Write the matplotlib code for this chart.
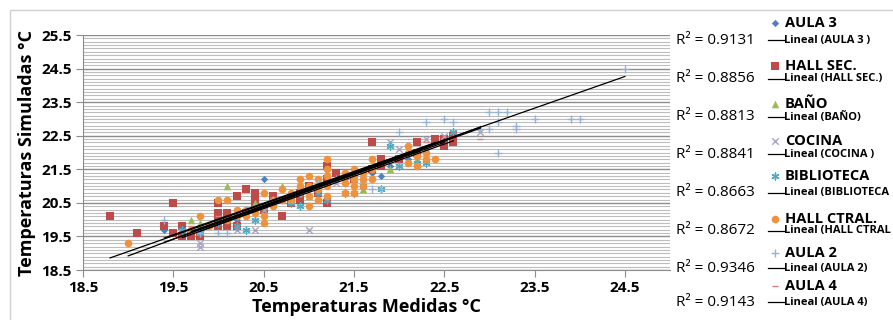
import numpy as np
import matplotlib.pyplot as plt
from matplotlib.patches import Rectangle

plt.rcParams['font.family'] = ['Open Sans', 'DejaVu Sans']

names = ['AULA 3', 'HALL SEC.', 'BAÑO', 'COCINA', 'BIBLIOTECA', 'HALL CTRAL.', 'AULA 2', 'AULA 4']
lineal_labels = ['Lineal (AULA 3 )', 'Lineal (HALL SEC.)', 'Lineal (BAÑO)', 'Lineal (COCINA )',
                 'Lineal (BIBLIOTECA', 'Lineal (HALL CTRAL', 'Lineal (AULA 2)', 'Lineal (AULA 4)']
r2_values = ['0.9131', '0.8856', '0.8813', '0.8841', '0.8663', '0.8672', '0.9346', '0.9143']

# linear trend lines (slope, intercept)
trend_slope = [0.96, 0.945, 0.95, 1.0, 0.96, 0.994, 0.943, 0.96]
trend_intercept = [0.70, 1.094, 0.925, -0.14, 0.65, 0.034, 1.16, 0.74]

aula3_x = [19.4, 19.7, 19.8, 20.0, 20.2, 20.3, 20.4, 20.5, 20.5, 20.7, 20.8, 20.9, 21.0, 21.1, 21.2,
           21.4, 21.5, 21.6, 21.7, 21.8, 21.9, 22.1, 22.2, 22.3, 22.5]
aula3_y = [19.7, 19.7, 19.8, 19.9, 20.0, 20.1, 20.2, 21.2, 20.4, 20.6, 20.8, 20.9, 20.9, 21.0, 21.1,
           21.2, 21.3, 21.4, 21.4, 21.3, 21.6, 21.8, 21.9, 22.1, 22.3]

hallsec_x = [18.8, 19.1, 19.4, 19.5, 19.5, 19.6, 19.6, 19.7, 19.8, 20.0, 20.0, 20.0, 20.1, 20.1, 20.2,
             20.2, 20.3, 20.3, 20.4, 20.4, 20.5, 20.6, 20.7, 20.8, 20.9, 21.0, 21.1, 21.2, 21.2, 21.3,
             21.5, 21.7, 21.7, 21.8, 22.0, 22.2, 22.4, 22.5, 22.6, 20.0, 20.1, 20.4, 20.9, 21.2, 21.8,
             22.2, 22.5, 22.6]
hallsec_y = [20.1, 19.6, 19.8, 20.5, 19.6, 19.8, 19.5, 19.5, 19.5, 20.5, 20.2, 19.8, 20.2, 19.8, 20.7,
             19.8, 20.9, 20.2, 20.8, 20.4, 20.3, 20.7, 20.1, 20.5, 20.8, 21.0, 20.8, 21.6, 20.5, 21.4,
             21.2, 22.3, 21.5, 21.6, 21.8, 22.3, 22.4, 22.2, 22.5, 20.0, 20.0, 20.6, 20.6, 21.2, 21.8,
             22.0, 22.4, 22.3]

bano_x = [19.7, 19.8, 20.1, 20.3, 20.4, 20.5, 20.7, 20.8, 21.0, 21.2, 21.4, 21.6, 21.9, 22.2]
bano_y = [20.0, 19.9, 21.0, 20.3, 20.5, 20.4, 21.0, 20.8, 20.7, 21.1, 21.2, 20.9, 21.5, 21.8]

cocina_x = [19.8, 19.8, 20.2, 20.3, 20.4, 20.5, 20.6, 20.8, 21.0, 21.1, 21.3, 21.5, 21.6, 21.9, 22.0,
            22.3, 22.5, 22.9]
cocina_y = [19.3, 19.2, 19.7, 20.2, 19.7, 20.3, 20.5, 20.6, 19.7, 21.0, 21.1, 21.2, 21.2, 22.3, 22.1,
            22.4, 22.5, 22.6]

biblio_x = [19.6, 19.8, 20.0, 20.2, 20.3, 20.4, 20.6, 20.8, 20.9, 21.1, 21.2, 21.4, 21.5, 21.6, 21.8,
            21.9, 22.0, 22.2, 22.3, 22.6]
biblio_y = [19.7, 19.6, 19.9, 19.8, 19.7, 20.0, 20.5, 20.5, 20.4, 20.8, 20.6, 20.8, 20.8, 21.0, 20.9,
            22.2, 21.6, 21.7, 21.7, 22.6]

hallctral_x = [19.0, 19.7, 19.8, 20.0, 20.1, 20.1, 20.2, 20.3, 20.4, 20.5, 20.5, 20.5, 20.7, 20.7, 20.8,
               20.9, 20.9, 21.0, 21.0, 21.1, 21.2, 21.2, 21.2, 21.4, 21.4, 21.5, 21.5, 21.6, 21.6, 21.7,
               21.7, 22.1, 22.1, 22.2, 22.3, 22.4, 20.9, 21.0, 21.0, 21.1, 21.1, 21.2, 21.2, 21.4, 21.4,
               21.5, 21.5, 21.6, 21.7, 20.8, 20.6, 20.6, 20.3, 20.2, 19.9, 22.2, 22.3, 22.1]
hallctral_y = [19.3, 19.7, 20.1, 20.6, 20.6, 20.0, 20.3, 20.1, 20.2, 20.8, 20.1, 19.9, 20.9, 20.6, 20.8,
               21.2, 20.8, 21.3, 20.4, 21.2, 21.8, 21.0, 20.7, 21.4, 20.8, 21.5, 20.8, 21.4, 21.0, 21.8,
               21.2, 22.2, 21.7, 21.6, 21.8, 21.8, 21.0, 21.0, 20.7, 20.9, 20.6, 21.3, 21.5, 21.1, 21.3,
               21.0, 21.2, 21.2, 21.5, 20.6, 20.4, 20.6, 20.3, 20.1, 19.8, 21.9, 22.0, 22.0]

aula2_x = [19.4, 19.8, 20.0, 20.1, 20.3, 20.6, 20.9, 21.1, 21.3, 21.7, 21.8, 22.0, 22.3, 22.5, 22.6,
           22.9, 23.0, 23.0, 23.1, 23.1, 23.1, 23.2, 23.3, 23.3, 23.5, 23.9, 24.0, 24.5]
aula2_y = [20.0, 19.6, 19.6, 19.6, 20.3, 20.6, 20.8, 21.1, 21.2, 20.9, 20.9, 22.6, 22.9, 23.0, 22.9,
           22.7, 23.2, 22.7, 23.2, 22.9, 22.0, 23.2, 22.8, 22.7, 23.0, 23.0, 23.0, 24.5]

aula4_x = [19.7, 20.0, 20.3, 20.6, 20.9, 21.2, 21.5, 21.7, 22.0, 22.3, 22.9]
aula4_y = [19.8, 20.1, 20.3, 20.6, 20.9, 21.1, 21.4, 21.6, 21.9, 22.3, 22.4]

series_x = [aula3_x, hallsec_x, bano_x, cocina_x, biblio_x, hallctral_x, aula2_x, aula4_x]
series_y = [aula3_y, hallsec_y, bano_y, cocina_y, biblio_y, hallctral_y, aula2_y, aula4_y]

colors = ['#4F81BD', '#BE4B48', '#9BBB59', '#A9A3C4', '#4BACC6', '#F0923B', '#95B3D7', '#E07B78']
markers = ['D', 's', '^', 'x', (6, 2, 0), 'o', '+', '_']
msizes = [14, 30, 30, 22, 26, 30, 34, 22]
line_markers = ('x', '+', '_', (6, 2, 0))

W, H = 893, 320
fig = plt.figure(figsize=(W / 100, H / 100), dpi=100)
ax = fig.add_axes([83 / W, 50 / H, 587 / W, 235 / H])

for i in range(len(names)):
    ax.scatter(series_x[i], series_y[i], marker=markers[i], s=msizes[i], color=colors[i],
               linewidths=1.0 if markers[i] in line_markers else 0, zorder=3)

for i in range(len(names)):
    xx = np.array([min(series_x[i]), max(series_x[i])])
    ax.plot(xx, trend_slope[i] * xx + trend_intercept[i], color='black', lw=0.9, zorder=4)

ax.set_xlim(18.5, 25.0)
ax.set_ylim(18.5, 25.5)
ax.set_xticks(np.arange(18.5, 25.0, 1.0))
ax.set_yticks(np.arange(18.5, 25.6, 1.0))
ax.set_yticks(np.arange(18.5, 25.55, 0.1), minor=True)
ax.grid(axis='y', which='major', color='#8C8C8C', lw=1.0)
ax.grid(axis='y', which='minor', color='#BDBDBD', lw=0.8)
ax.set_axisbelow(True)
ax.tick_params(axis='y', which='minor', length=0)
ax.tick_params(which='major', length=5, color='#8C8C8C', labelsize=11, pad=3)
for lab in ax.get_xticklabels() + ax.get_yticklabels():
    lab.set_fontweight('bold')
for s in ['top', 'right']:
    ax.spines[s].set_visible(False)
for s in ['left', 'bottom']:
    ax.spines[s].set_color('#8C8C8C')

ax.set_xlabel('Temperaturas Medidas °C', fontsize=13, fontweight='bold')
ax.xaxis.set_label_coords((366 - 83) / 587, -(298 - 270) / 235)
ax.set_ylabel('Temperaturas Simuladas °C', fontsize=13, fontweight='bold', labelpad=4)

# chart border
fig.add_artist(Rectangle((10 / W, -0.1), 1.0, (H - 10) / H + 0.1, transform=fig.transFigure,
                         fill=False, edgecolor='#D0D0D0', lw=1.0))

# legend and R² labels placed in pixel coordinates
lg = fig.add_axes([0, 0, 1, 1], facecolor='none')
lg.set_xlim(0, W)
lg.set_ylim(H, 0)
lg.axis('off')
name_y = [23, 66, 104, 141, 176, 219, 253, 286]
line_y = [40, 79, 117, 154, 193, 231, 268, 302]
for i in range(len(names)):
    lg.scatter([775], [name_y[i]], marker=markers[i], s=msizes[i], color=colors[i],
               linewidths=1.0 if markers[i] in line_markers else 0)
    lg.text(785, name_y[i], names[i], fontsize=10.5, fontweight='bold', va='center', ha='left')
    lg.plot([768, 784], [line_y[i], line_y[i]], color='black', lw=0.9)
    lg.text(784, line_y[i], lineal_labels[i], fontsize=8, fontweight='bold', va='center', ha='left')
    lg.text(676, line_y[i], 'R² = ' + r2_values[i], fontsize=11, va='center', ha='left')

fig.savefig('out.png', dpi=100)
